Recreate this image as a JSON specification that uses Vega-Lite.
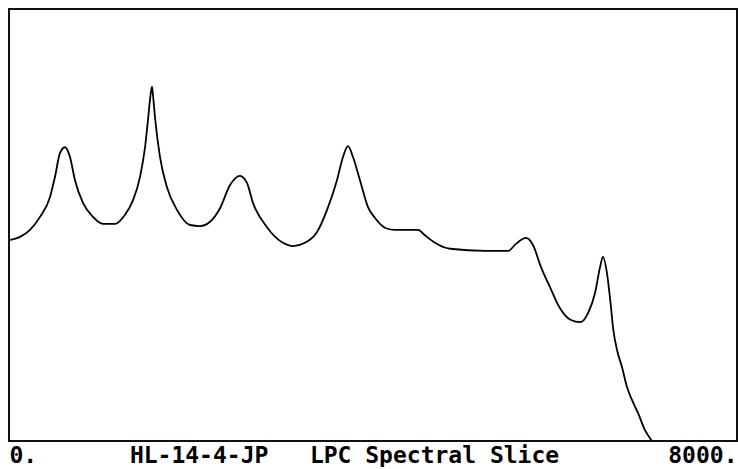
{
  "$schema": "https://vega.github.io/schema/vega-lite/v6.json",
  "width": 728,
  "height": 432,
  "padding": {"left": 9, "top": 9, "right": 1, "bottom": 0},
  "background": "white",
  "config": {"view": {"stroke": "#111", "strokeWidth": 2}},
  "data": {"values": [
    {"f": 0, "db": 37.2}, {"f": 121, "db": 37.8}, {"f": 231, "db": 39.1}, {"f": 341, "db": 41.5},
    {"f": 451, "db": 45.2}, {"f": 505, "db": 48.9}, {"f": 560, "db": 53.3}, {"f": 615, "db": 54.4},
    {"f": 670, "db": 52.6}, {"f": 725, "db": 48.3}, {"f": 813, "db": 44.1}, {"f": 923, "db": 41.5},
    {"f": 1033, "db": 40.2}, {"f": 1165, "db": 40.2}, {"f": 1275, "db": 41.9}, {"f": 1363, "db": 44.6},
    {"f": 1440, "db": 48.9}, {"f": 1495, "db": 54.4}, {"f": 1527, "db": 59.4}, {"f": 1549, "db": 63.1},
    {"f": 1571, "db": 65.6}, {"f": 1582, "db": 64.1}, {"f": 1604, "db": 60.0}, {"f": 1659, "db": 52.6},
    {"f": 1736, "db": 47.0}, {"f": 1846, "db": 42.8}, {"f": 1989, "db": 40.0}, {"f": 2099, "db": 39.8},
    {"f": 2209, "db": 40.6}, {"f": 2319, "db": 43.1}, {"f": 2429, "db": 47.4}, {"f": 2538, "db": 49.1},
    {"f": 2615, "db": 47.8}, {"f": 2681, "db": 44.1}, {"f": 2835, "db": 39.6}, {"f": 3011, "db": 36.7},
    {"f": 3121, "db": 36.1}, {"f": 3253, "db": 36.7}, {"f": 3385, "db": 38.7}, {"f": 3495, "db": 42.8},
    {"f": 3604, "db": 48.3}, {"f": 3670, "db": 52.6}, {"f": 3725, "db": 54.6}, {"f": 3780, "db": 52.6},
    {"f": 3857, "db": 48.3}, {"f": 3945, "db": 43.3}, {"f": 4022, "db": 41.3}, {"f": 4143, "db": 39.4},
    {"f": 4242, "db": 39.1}, {"f": 4495, "db": 39.1}, {"f": 4571, "db": 38.1}, {"f": 4681, "db": 36.7},
    {"f": 4846, "db": 35.6}, {"f": 5231, "db": 35.2}, {"f": 5484, "db": 35.2}, {"f": 5571, "db": 36.5},
    {"f": 5681, "db": 37.6}, {"f": 5758, "db": 36.3}, {"f": 5846, "db": 32.2}, {"f": 5945, "db": 28.5},
    {"f": 6055, "db": 24.6}, {"f": 6176, "db": 22.4}, {"f": 6275, "db": 22.0}, {"f": 6363, "db": 23.7},
    {"f": 6440, "db": 27.4}, {"f": 6495, "db": 32.2}, {"f": 6527, "db": 34.1}, {"f": 6571, "db": 31.1},
    {"f": 6615, "db": 24.8}, {"f": 6637, "db": 21.1}, {"f": 6681, "db": 16.9}, {"f": 6736, "db": 13.7},
    {"f": 6791, "db": 10.0}, {"f": 6846, "db": 7.6}, {"f": 6912, "db": 5.2}, {"f": 6989, "db": 2.0},
    {"f": 7066, "db": 0}
  ]},
  "mark": {"type": "line", "color": "black", "strokeWidth": 1.8, "clip": true, "interpolate": "monotone"},
  "encoding": {
    "x": {
      "field": "f", "type": "quantitative",
      "scale": {"domain": [0, 8000], "nice": false, "zero": false},
      "axis": {
        "values": [0, 8000], "format": "d", "labelExpr": "datum.label + '.'",
        "labelFlush": true, "domain": false, "ticks": false, "tickSize": 0, "grid": false,
        "labelFont": "DejaVu Sans Mono", "labelFontWeight": "bold", "labelFontSize": 23,
        "labelColor": "black", "labelBaseline": "alphabetic", "labelPadding": 21,
        "title": "HL-14-4-JP\u00a0\u00a0\u00a0LPC Spectral Slice",
        "titleFont": "DejaVu Sans Mono", "titleFontWeight": "bold", "titleFontSize": 23,
        "titleColor": "black", "titleBaseline": "alphabetic", "titleAlign": "center",
        "titleX": 335, "titleY": 21
      }
    },
    "y": {
      "field": "db", "type": "quantitative",
      "scale": {"domain": [0, 80], "nice": false, "zero": false},
      "axis": null
    }
  }
}
